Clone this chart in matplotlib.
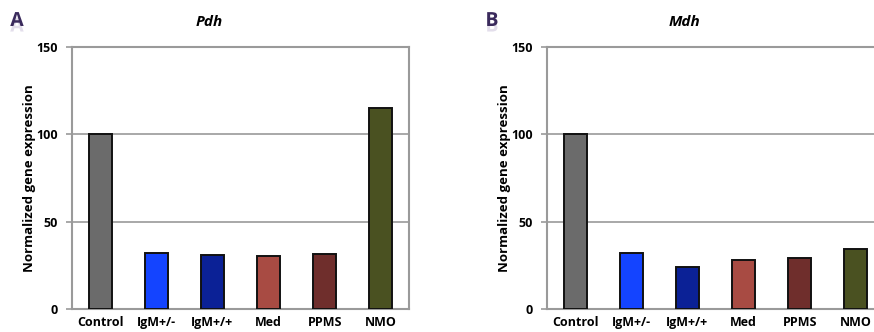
import matplotlib
matplotlib.use("Agg")
import matplotlib.pyplot as plt
import matplotlib.patheffects as pe

plt.rcParams['font.family'] = ['Open Sans', 'DejaVu Sans']

categories = ["Control", "IgM+/-", "IgM+/+", "Med", "PPMS", "NMO"]
pdh_values = [100, 32, 31, 30.5, 31.5, 115]
mdh_values = [100, 32, 24, 28, 29, 34.5]
bar_colors = ["#6b6b6b", "#1444ff", "#0b2196", "#a84b43", "#6f2e2c", "#4a5121"]
yticks = [0, 50, 100, 150]
panels = [("A", "Pdh", pdh_values), ("B", "Mdh", mdh_values)]

fig = plt.figure(figsize=(8.74, 3.32), dpi=100)

W, H = 874, 332
ax_lefts = [72, 547]
ax_width = 337
ax_bottom = 309
ax_top = 47
letter_x = [17, 492]
title_x = [209, 684]

grey = "#9a9a9a"

for i, (letter, gene, vals) in enumerate(panels):
    ax = fig.add_axes([ax_lefts[i] / W, 1 - ax_bottom / H,
                       ax_width / W, (ax_bottom - ax_top) / H])
    x = range(len(categories))
    ax.bar(x, vals, width=0.41, color=bar_colors, edgecolor="#111111",
           linewidth=1.4, zorder=3)
    ax.set_xlim(-0.5, len(categories) - 0.5)
    ax.set_ylim(0, 150)
    ax.set_yticks(yticks)
    ax.set_yticklabels([str(t) for t in yticks], fontsize=9, fontweight="bold")
    ax.set_xticks(list(x))
    ax.set_xticklabels(categories, fontsize=9, fontweight="bold")
    ax.tick_params(axis="x", length=0, pad=5)
    ax.tick_params(axis="y", length=4, width=1.2, color=grey, pad=6)
    ax.yaxis.grid(True, color=grey, linewidth=1.2, zorder=0)
    for s in ["left", "bottom", "top", "right"]:
        ax.spines[s].set_color(grey)
        ax.spines[s].set_linewidth(1.5)
    if i == 1:
        ax.spines["right"].set_visible(False)
    ax.set_ylabel("Normalized gene expression", fontsize=9.5,
                  fontweight="bold", labelpad=0)

    fig.text(title_x[i] / W, 1 - 22 / H, gene, fontsize=11, fontweight="bold",
             fontstyle="italic", ha="center", va="center")
    fig.text(letter_x[i] / W, 1 - 21 / H, letter, fontsize=14,
             fontweight="bold", color="#3a2a5c", ha="center", va="center",
             path_effects=[pe.SimplePatchShadow(offset=(0, -4), shadow_rgbFace="#c8bfd8",
                                                alpha=0.5), pe.Normal()])

fig.savefig("out.png", dpi=100)
